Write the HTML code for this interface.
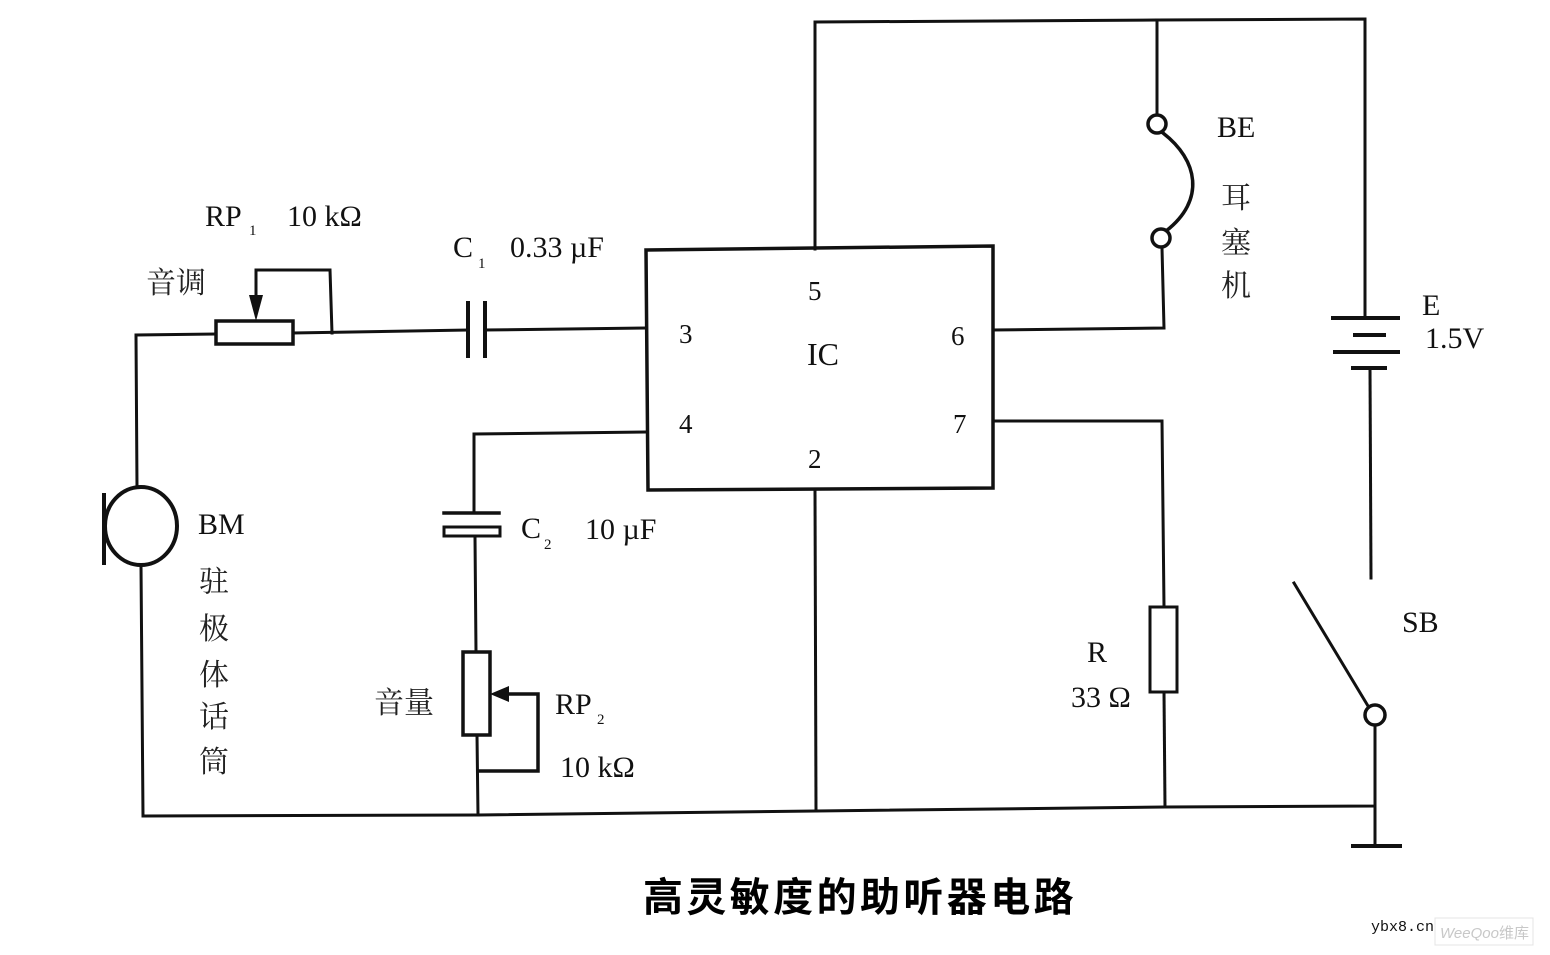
<!DOCTYPE html>
<html>
<head>
<meta charset="utf-8">
<style>
  html,body{margin:0;padding:0;background:#fff;}
  svg{display:block;}
  .l{font-family:"Liberation Serif","Noto Serif CJK SC",serif;fill:#111;}
  .c{font-family:"Liberation Serif","Noto Serif CJK SC","Noto Sans CJK SC",serif;fill:#222;}
  .t{font-family:"Liberation Sans","Noto Sans CJK SC",sans-serif;font-weight:bold;fill:#000;}
</style>
</head>
<body>
<svg width="1550" height="955" viewBox="0 0 1550 955" xmlns="http://www.w3.org/2000/svg">
  <rect width="1550" height="955" fill="#fff"/>
  <g stroke="#111" stroke-width="3" fill="none" stroke-linecap="square">
    <!-- top rail -->
    <polyline points="815,249 815,22 1157,20 1365,19 1365,318"/>
    <!-- earphone -->
    <line x1="1157" y1="20" x2="1157" y2="115"/>
    <path d="M1163,133 C1198,160 1206,200 1166,231" stroke-width="3.5"/>
    <polyline points="1162,248 1164,328 993,330"/>
    <!-- battery -->
    <line x1="1333" y1="318" x2="1398" y2="318" stroke-width="4"/>
    <line x1="1355" y1="335" x2="1384" y2="335" stroke-width="4"/>
    <line x1="1335" y1="352" x2="1398" y2="352" stroke-width="4"/>
    <line x1="1353" y1="368" x2="1385" y2="368" stroke-width="4"/>
    <line x1="1370" y1="368" x2="1371" y2="578"/>
    <!-- switch -->
    <line x1="1294" y1="583" x2="1368" y2="706"/>
    <line x1="1375" y1="726" x2="1375" y2="845"/>
    <line x1="1353" y1="846" x2="1400" y2="846" stroke-width="4"/>
    <!-- IC box -->
    <polygon points="646,250 993,246 993,488 648,490" stroke-width="3.5"/>
    <!-- pin 7 to R -->
    <polyline points="993,421 1162,421 1164,607"/>
    <rect x="1150" y="607" width="27" height="85" stroke-width="3"/>
    <line x1="1164" y1="692" x2="1165" y2="807"/>
    <!-- pin 2 -->
    <line x1="815" y1="490" x2="816" y2="811"/>
    <!-- bottom rail -->
    <polyline points="141,565 143,816 478,815 816,811 1165,807 1375,806 1375,726"/>
    <!-- pin 3 path -->
    <polyline points="646,328 485,330"/>
    <line x1="468" y1="303" x2="468" y2="356" stroke-width="4"/>
    <line x1="485" y1="303" x2="485" y2="356" stroke-width="4"/>
    <line x1="468" y1="330" x2="294" y2="333"/>
    <rect x="216" y="321" width="77" height="23" stroke-width="3.5"/>
    <polyline points="216,334 136,335 137,487"/>
    <!-- RP1 wiper -->
    <polyline points="332,333 330,270 256,270 256,300"/>
    <!-- pin 4 path -->
    <polyline points="646,432 474,434 474,513"/>
    <line x1="444" y1="513" x2="499" y2="513" stroke-width="3.5"/>
    <rect x="444" y="527" width="56" height="9" stroke-width="3"/>
    <line x1="475" y1="537" x2="476" y2="652"/>
    <rect x="463" y="652" width="27" height="83" stroke-width="3.5"/>
    <line x1="477" y1="735" x2="478" y2="815"/>
    <!-- RP2 wiper -->
    <polyline points="505,694 538,694 538,771 478,771" stroke-width="3.5"/>
    <!-- mic -->
    <ellipse cx="141" cy="526" rx="36" ry="39" stroke-width="4"/>
    <line x1="104" y1="495" x2="104" y2="563" stroke-width="4"/>
  </g>
  <!-- arrowheads -->
  <polygon points="249,295 263,295 256,321" fill="#111"/>
  <polygon points="490,694 509,686 509,702" fill="#111"/>
  <!-- terminals -->
  <g stroke="#111" stroke-width="3.5" fill="#fff">
    <circle cx="1157" cy="124" r="9"/>
    <circle cx="1161" cy="238" r="9"/>
    <circle cx="1375" cy="715" r="10"/>
  </g>

  <!-- labels -->
  <g class="l" font-size="30">
    <text x="205" y="226">RP</text>
    <text x="249" y="235" font-size="15">1</text>
    <text x="287" y="226">10 kΩ</text>
    <text x="453" y="257">C</text>
    <text x="478" y="268" font-size="15">1</text>
    <text x="510" y="257">0.33 µF</text>
    <text x="198" y="534">BM</text>
    <text x="521" y="538">C</text>
    <text x="544" y="549" font-size="15">2</text>
    <text x="585" y="539">10 µF</text>
    <text x="555" y="714">RP</text>
    <text x="597" y="724" font-size="15">2</text>
    <text x="560" y="777">10 kΩ</text>
    <text x="1217" y="137">BE</text>
    <text x="1422" y="315">E</text>
    <text x="1425" y="348">1.5V</text>
    <text x="1087" y="662">R</text>
    <text x="1071" y="707">33 Ω</text>
    <text x="1402" y="632">SB</text>
    <text x="807" y="365" font-size="32">IC</text>
  </g>
  <g class="l" font-size="27">
    <text x="808" y="300">5</text>
    <text x="679" y="343">3</text>
    <text x="951" y="345">6</text>
    <text x="679" y="433">4</text>
    <text x="953" y="433">7</text>
    <text x="808" y="468">2</text>
  </g>
  <g class="c" font-size="30">
    <text x="146" y="293">音调</text>
    <text x="374" y="713">音量</text>
    <text x="199" y="592">驻</text>
    <text x="199" y="639">极</text>
    <text x="199" y="685">体</text>
    <text x="199" y="727">话</text>
    <text x="199" y="772">筒</text>
    <text x="1221" y="208">耳</text>
    <text x="1221" y="253">塞</text>
    <text x="1221" y="296">机</text>
  </g>
  <text class="t" x="643" y="911" font-size="40" letter-spacing="3.4">高灵敏度的助听器电路</text>

  <!-- watermark -->
  <text x="1371" y="931" font-family="Liberation Mono, monospace" font-size="15" fill="#111">ybx8.cn</text>
  <rect x="1435" y="918" width="98" height="27" fill="#fff" stroke="#e4e4e4" stroke-width="1"/>
  <text x="1440" y="938" font-family="Liberation Sans, 'Noto Sans CJK SC', sans-serif" font-size="15" font-style="italic" fill="#c8c8c8">WeeQoo<tspan font-style="normal">维库</tspan></text>
</svg>
</body>
</html>
